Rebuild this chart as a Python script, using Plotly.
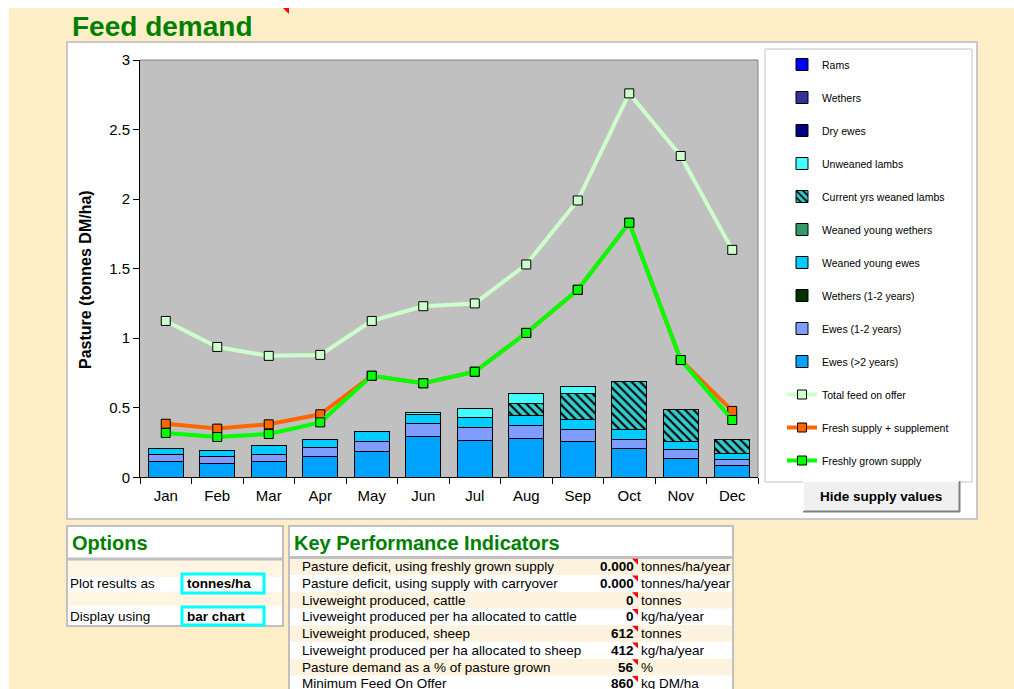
import plotly.graph_objects as go

W, H = 1014, 689
def X(p):
    return p / W
def Y(p):
    return 1 - p / H

FONT = "Arial, Liberation Sans, sans-serif"

months = ["Jan", "Feb", "Mar", "Apr", "May", "Jun", "Jul", "Aug", "Sep", "Oct", "Nov", "Dec"]

# stacked demand components (tonnes DM/ha)
ewes_gt2 = [0.117, 0.101, 0.117, 0.153, 0.185, 0.290, 0.266, 0.278, 0.256, 0.204, 0.137, 0.084]
ewes_1_2 = [0.044, 0.048, 0.044, 0.062, 0.070, 0.098, 0.091, 0.098, 0.087, 0.067, 0.062, 0.043]
wethers_1_2 = [0, 0, 0, 0, 0, 0, 0, 0, 0, 0, 0, 0]
weaned_young_ewes = [0.045, 0.045, 0.069, 0.057, 0.074, 0.065, 0.070, 0.065, 0.076, 0.072, 0.057, 0.043]
weaned_young_wethers = [0, 0, 0, 0, 0, 0, 0, 0, 0, 0, 0, 0]
current_weaned_lambs = [0, 0, 0, 0, 0, 0, 0, 0.091, 0.182, 0.345, 0.230, 0.101]
unweaned_lambs = [0, 0, 0, 0, 0, 0.014, 0.069, 0.069, 0.051, 0, 0, 0]
dry_ewes = [0, 0, 0, 0, 0, 0, 0, 0, 0, 0, 0, 0]
wethers = [0, 0, 0, 0, 0, 0, 0, 0, 0, 0, 0, 0]
rams = [0, 0, 0, 0, 0, 0, 0, 0, 0, 0, 0, 0]

# supply lines
total_feed = [1.124, 0.937, 0.873, 0.880, 1.124, 1.230, 1.250, 1.530, 1.990, 2.760, 2.310, 1.635]
fresh_plus_supp = [0.385, 0.350, 0.381, 0.453, 0.730, 0.676, 0.759, 1.038, 1.348, 1.830, 0.843, 0.477]
fresh_grown = [0.319, 0.290, 0.311, 0.395, 0.730, 0.676, 0.759, 1.038, 1.348, 1.830, 0.843, 0.412]

# KPI table
kpi_labels = ["Pasture deficit, using freshly grown supply",
              "Pasture deficit, using supply with carryover",
              "Liveweight produced, cattle",
              "Liveweight produced per ha allocated to cattle",
              "Liveweight produced, sheep",
              "Liveweight produced per ha allocated to sheep",
              "Pasture demand as a % of pasture grown",
              "Minimum Feed On Offer"]
kpi_values = ["0.000", "0.000", "0", "0", "612", "412", "56", "860"]
kpi_units = ["tonnes/ha/year", "tonnes/ha/year", "tonnes", "kg/ha/year",
             "tonnes", "kg/ha/year", "%", "kg DM/ha"]

option_labels = ["Plot results as", "Display using"]
option_values = ["tonnes/ha", "bar chart"]

fig = go.Figure()

# bars: bottom of stack first; legendrank gives legend order (Rams at top)
bar_series = [
    ("Ewes (>2 years)", ewes_gt2, "#00A2FF", 10),
    ("Ewes (1-2 years)", ewes_1_2, "#809CFF", 9),
    ("Wethers (1-2 years)", wethers_1_2, "#003300", 8),
    ("Weaned young ewes", weaned_young_ewes, "#00CCFF", 7),
    ("Weaned young wethers", weaned_young_wethers, "#339966", 6),
    ("Current yrs weaned lambs", current_weaned_lambs, "#33CCCC", 5),
    ("Unweaned lambs", unweaned_lambs, "#44FFFF", 4),
    ("Dry ewes", dry_ewes, "#000080", 3),
    ("Wethers", wethers, "#333399", 2),
    ("Rams", rams, "#0000FF", 1),
]
for name, vals, col, rank in bar_series:
    marker = dict(color=col, line=dict(color="black", width=1))
    if name == "Current yrs weaned lambs":
        marker["pattern"] = dict(shape="\\", fgcolor="#000000", bgcolor=col,
                                 size=6, solidity=0.35, fillmode="replace")
    fig.add_trace(go.Bar(
        x=months, y=[v if v > 0 else None for v in vals], name=name,
        marker=marker, legendrank=rank, legendgroup=name,
    ))

line_series = [
    ("Total feed on offer", total_feed, "#CCFFCC", 11),
    ("Fresh supply + supplement", fresh_plus_supp, "#FF6600", 12),
    ("Freshly grown supply", fresh_grown, "#00FF00", 13),
]
for name, vals, col, rank in line_series:
    fig.add_trace(go.Scatter(
        x=months, y=vals, name=name, mode="lines+markers",
        line=dict(color=col, width=4),
        marker=dict(symbol="square", size=9, color=col, line=dict(color="black", width=1)),
        legendrank=rank, legendgroup=name,
    ))

shapes = []
annotations = []

def rect(x0, y0, x1, y1, fill=None, line=None, lw=1, layer="below"):
    shapes.append(dict(type="rect", xref="paper", yref="paper",
                       x0=X(x0), x1=X(x1), y0=Y(y1), y1=Y(y0),
                       fillcolor=fill if fill else "rgba(0,0,0,0)",
                       line=dict(color=line if line else "rgba(0,0,0,0)", width=lw if line else 0),
                       layer=layer))

def hline(x0, x1, y, color, lw=1, layer="below"):
    shapes.append(dict(type="line", xref="paper", yref="paper",
                       x0=X(x0), x1=X(x1), y0=Y(y), y1=Y(y),
                       line=dict(color=color, width=lw), layer=layer))

def vline(x, y0, y1, color, lw=1, layer="below"):
    shapes.append(dict(type="line", xref="paper", yref="paper",
                       x0=X(x), x1=X(x), y0=Y(y0), y1=Y(y1),
                       line=dict(color=color, width=lw), layer=layer))

def tri(x, y, layer="above"):
    # small red comment marker
    path = "M {} {} L {} {} L {} {} Z".format(X(x), Y(y), X(x + 6), Y(y), X(x + 6), Y(y + 6))
    shapes.append(dict(type="path", xref="paper", yref="paper", path=path,
                       fillcolor="#FF0000", line=dict(width=0), layer=layer))

def text(x, y, s, size=13.5, color="black", bold=False, xanchor="left", angle=0):
    annotations.append(dict(xref="paper", yref="paper", x=X(x), y=Y(y),
                            text="<b>%s</b>" % s if bold else s, showarrow=False,
                            xanchor=xanchor, yanchor="middle", textangle=angle,
                            font=dict(family=FONT, size=size, color=color)))

# page background pieces
rect(0, 0, W, 8, fill="white")
rect(0, 0, 9, H, fill="white")
tri(283, 8)

# title
text(70, 27, "Feed demand", size=28, color="#008000", bold=True)

# chart container and legend box
rect(67, 42, 977, 519, fill="white", line="#C8C8C8", lw=2)
rect(765, 49, 972, 482, fill="white", line="#C4C4C4", lw=1)
# plot area background (grey), on top of the white container
shapes.append(dict(type="rect", xref="x domain", yref="y domain", x0=0, x1=1, y0=0, y1=1,
                   fillcolor="#C0C0C0", line=dict(width=0), layer="below"))
# plot frame (top and right edges)
shapes.append(dict(type="line", xref="x domain", yref="y domain", x0=0, x1=1, y0=1, y1=1,
                   line=dict(color="#808080", width=1), layer="above"))
shapes.append(dict(type="line", xref="x domain", yref="y domain", x0=1, x1=1, y0=0, y1=1,
                   line=dict(color="#808080", width=1), layer="above"))

# y-axis title
text(85, 280, "Pasture (tonnes DM/ha)", size=16, bold=True, xanchor="center", angle=-90)

# button
rect(803, 481, 960, 512, fill="#F0F0F0")
hline(803, 960, 511.5, "#808080", 2)
vline(959.5, 481, 512, "#808080", 2)
hline(803, 959, 481.5, "#FFFFFF", 1)
vline(803.5, 481, 511, "#FFFFFF", 1)
text(881, 496.5, "Hide supply values", size=13.5, bold=True, xanchor="center")

# Options panel
rect(67, 526, 283, 626, fill="white", line="#C0C0C0", lw=2)
text(70, 543, "Options", size=20, color="#008000", bold=True)
rect(68, 560, 282, 577, fill="#FFF5E2")
rect(68, 592, 282, 606, fill="#FFF5E2")
hline(67, 283, 559, "#C0C0C0", 3)
opt_y = [583, 616]
opt_box = [(574, 593), (607, 625)]
for lab, val, yy, (b0, b1) in zip(option_labels, option_values, opt_y, opt_box):
    text(68, yy, lab, size=13.5)
    rect(182, b0, 264, b1, fill="white", line="#00FFFF", lw=3)
    text(185, yy, val, size=13.5, bold=True)

# KPI panel
rect(289, 526, 733, 700, fill="white", line="#C0C0C0", lw=2)
text(292, 543, "Key Performance Indicators", size=20, color="#008000", bold=True)
row_y = [566.7 + 16.75 * i for i in range(len(kpi_labels))]
for i, yy in enumerate(row_y):
    if i % 2 == 0:
        rect(290, yy - 8.4, 732, yy + 8.4, fill="#FDF3DF")
hline(289, 733, 557.5, "#C0C0C0", 3)
for lab, val, unit, yy in zip(kpi_labels, kpi_values, kpi_units, row_y):
    text(300, yy, lab, size=13.5)
    text(636, yy, val, size=13.5, bold=True, xanchor="right")
    text(639, yy, unit, size=13.5)
    tri(632, yy - 8)

fig.update_layout(
    width=W, height=H, autosize=False,
    margin=dict(l=0, r=0, t=0, b=0, pad=0, autoexpand=False),
    paper_bgcolor="#FDEEC8",
    plot_bgcolor="#C0C0C0",
    barmode="stack", bargap=0.32,
    font=dict(family=FONT, size=15, color="black"),
    showlegend=True,
    legend=dict(x=X(782), y=Y(50), xanchor="left", yanchor="top",
                bgcolor="rgba(0,0,0,0)", borderwidth=0,
                traceorder="grouped", tracegroupgap=14,
                font=dict(family=FONT, size=10.5, color="black"),
                itemclick=False, itemdoubleclick=False),
    xaxis=dict(domain=[X(140), X(758)], type="category", range=[-0.5, 11.5],
               autorange=False, automargin=False,
               showline=True, linecolor="black", linewidth=1,
               ticks="outside", ticklen=6, tickcolor="black", tickson="boundaries",
               ticklabelstandoff=5,
               showgrid=False, zeroline=False,
               tickfont=dict(family=FONT, size=15, color="black")),
    yaxis=dict(domain=[Y(477.3), Y(60)], range=[0, 3], dtick=0.5,
               autorange=False, automargin=False,
               showline=True, linecolor="black", linewidth=1,
               ticks="outside", ticklen=6, tickcolor="black",
               showgrid=False, zeroline=False,
               tickformat="~g",
               tickfont=dict(family=FONT, size=15, color="black")),
    shapes=shapes,
    annotations=annotations,
    hovermode=False,
)

fig.write_html("out.html", config={"displayModeBar": False})
